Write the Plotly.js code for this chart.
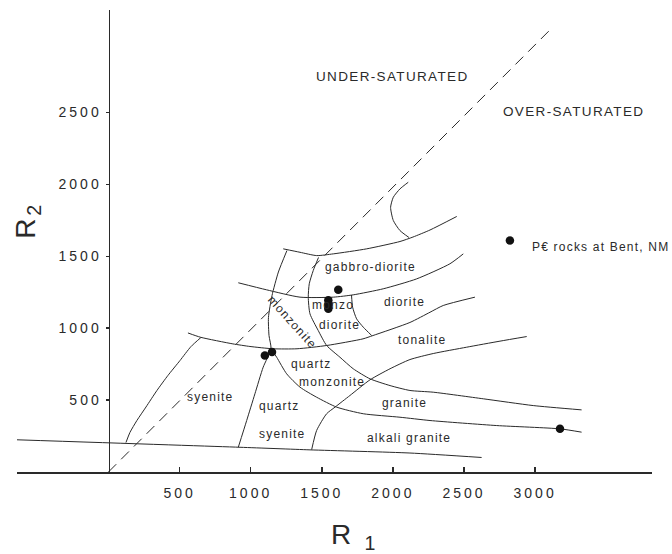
<!DOCTYPE html>
<html>
<head>
<meta charset="utf-8">
<script src="https://cdn.plot.ly/plotly-3.0.1.min.js"></script>
<style>
  html, body { margin: 0; padding: 0; background: #fff; }
  #chart { width: 672px; height: 554px; }
  .xtick text, .ytick text { letter-spacing: 3px; }
  .annotation-text { letter-spacing: 0.1em; }
</style>
</head>
<body>
<div id="chart"></div>
<script>
// ---- data (R1 = x, R2 = y) ----
const xTicks = [500, 1000, 1500, 2000, 2500, 3000];
const yTicks = [500, 1000, 1500, 2000, 2500];

// saturation boundary (dashed)
const satX = [0, 3100];
const satY = [0, 3070];

// lower boundary line
const baseX = [-643, 925, 1417, 2120, 2624];
const baseY = [224, 172, 154, 132, 101];

// syenite left boundary
const syeLeftX = [123, 151, 200, 264, 341, 418, 503, 580, 650];
const syeLeftY = [205, 275, 358, 452, 567, 671, 775, 872, 935];

// ~1000 boundary (syenite top / monzonite base / tonalite top)
const line1000X = [559, 648, 875, 995, 1157, 1326, 1536, 1790, 1860, 2120, 2261, 2354, 2577];
const line1000Y = [967, 937, 891, 873, 857, 857, 880, 926, 949, 1040, 1111, 1158, 1216];

// ~1250 boundary (monzonite top / gabbro-diorite base)
const line1250X = [913, 1112, 1347, 1581, 1721, 1932, 2167, 2401, 2495];
const line1250Y = [1316, 1267, 1216, 1216, 1232, 1274, 1343, 1448, 1517];

// gabbro-diorite top
const gabTopX = [1229, 1347, 1464, 1581, 1816, 2050, 2141, 2261, 2449];
const gabTopY = [1552, 1528, 1505, 1517, 1552, 1603, 1634, 1683, 1777];

// hook above gabbro-diorite
const hookX = [2113, 2050, 2003, 1984, 2003, 2050, 2108];
const hookY = [1631, 1679, 1749, 1841, 1911, 1969, 2015];

// monzonite left / syenite - quartz syenite boundary
const monzLeftX = [1255, 1195, 1150, 1125, 1129, 1143, 1088, 1030, 972, 913];
const monzLeftY = [1540, 1391, 1227, 1074, 949, 857, 729, 544, 358, 172];

// monzodiorite left / quartz monzonite - tonalite / granite top
const qmTopX = [1477, 1440, 1412, 1405, 1417, 1475, 1534, 1628, 1721, 1839, 1980, 2120, 2284, 2636, 2987, 3327];
const qmTopY = [1492, 1401, 1309, 1216, 1100, 984, 880, 798, 718, 648, 601, 567, 555, 509, 462, 432];

// monzodiorite / diorite boundary
const mdX = [1709, 1717, 1745, 1792, 1851];
const mdY = [1231, 1146, 1065, 1007, 949];

// quartz monzonite base / granite - alkali granite boundary
const graniteX = [1143, 1183, 1253, 1347, 1464, 1605, 1792, 2050, 2261, 2730, 3175, 3327];
const graniteY = [857, 798, 683, 590, 520, 451, 405, 381, 358, 323, 300, 277];

// quartz syenite - alkali granite / granite - tonalite boundary
const tonBaseX = [1429, 1464, 1534, 1593, 1698, 1839, 1980, 2120, 2284, 2519, 2753, 2941];
const tonBaseY = [156, 289, 405, 451, 532, 641, 718, 782, 824, 868, 910, 942];

// samples
const sampleX = [1616, 1546, 1546, 1546, 1100, 1150, 3175];
const sampleY = [1267, 1195, 1165, 1135, 810, 835, 300];
const keyX = [2823];
const keyY = [1610];

// labels
const fieldText = ['gabbro-diorite', 'monzo', 'diorite', 'diorite', 'tonalite', 'monzonite',
  'quartz', 'monzonite', 'granite', 'alkali granite', 'syenite', 'quartz', 'syenite'];
const fieldX = [1846, 1579, 1628, 2085, 2204, 1290, 1429, 1570, 2085, 2115, 714, 1206, 1218];
const fieldY = [1429, 1158, 1024, 1181, 919, 1040, 752, 629, 478, 238, 520, 462, 266];
const fieldAngle = [0, 0, 0, 0, 0, 48, 0, 0, 0, 0, 0, 0, 0];

const zoneText = ['UNDER-SATURATED', 'OVER-SATURATED'];
const zoneX = [1994, 3273];
const zoneY = [2750, 2507];

const keyText = 'P€ rocks at Bent, NM';
const keyTextX = 2964;
const keyTextY = 1568;

// ---- drawing ----
const ink = '#2a2a2a';
const FONT = 'Liberation Sans, Arial, Helvetica, sans-serif';

function curve(x, y) {
  return { x: x, y: y, type: 'scatter', mode: 'lines',
    line: { color: ink, width: 1, shape: 'spline', smoothing: 0.6 },
    hoverinfo: 'skip', cliponaxis: false };
}

const traces = [
  { x: satX, y: satY, type: 'scatter', mode: 'lines',
    line: { color: ink, width: 1, dash: '11px,7px' }, hoverinfo: 'skip' },
  curve(baseX, baseY),
  curve(syeLeftX, syeLeftY),
  curve(line1000X, line1000Y),
  curve(line1250X, line1250Y),
  curve(gabTopX, gabTopY),
  curve(hookX, hookY),
  curve(monzLeftX, monzLeftY),
  curve(qmTopX, qmTopY),
  curve(mdX, mdY),
  curve(graniteX, graniteY),
  curve(tonBaseX, tonBaseY),
  { x: sampleX, y: sampleY, type: 'scatter', mode: 'markers',
    marker: { color: '#111', size: 8.5 }, hoverinfo: 'skip' },
  { x: keyX, y: keyY, type: 'scatter', mode: 'markers',
    marker: { color: '#111', size: 8.5 }, hoverinfo: 'skip' }
];

const annotations = [];
fieldText.forEach(function (t, i) {
  annotations.push({ x: fieldX[i], y: fieldY[i], xref: 'x', yref: 'y', text: t,
    showarrow: false, textangle: fieldAngle[i],
    font: { family: FONT, size: 12, color: ink } });
});
zoneText.forEach(function (t, i) {
  annotations.push({ x: zoneX[i], y: zoneY[i], xref: 'x', yref: 'y', text: t,
    showarrow: false, font: { family: FONT, size: 13.5, color: ink } });
});
annotations.push({ x: keyTextX, y: keyTextY, xref: 'x', yref: 'y', text: keyText,
  showarrow: false, xanchor: 'left', font: { family: FONT, size: 12, color: ink } });
// axis titles
annotations.push({ x: -0.014, y: 0.545, xref: 'paper', yref: 'paper', text: 'R<sub>2</sub>',
  showarrow: false, textangle: -90, font: { family: FONT, size: 28, color: ink } });
annotations.push({ x: 0.532, y: -0.182, xref: 'paper', yref: 'paper', text: 'R <sub>1</sub>',
  showarrow: false, font: { family: FONT, size: 28, color: ink } });

const layout = {
  width: 672, height: 554,
  margin: { l: 17, r: 20, t: 10, b: 82 },
  paper_bgcolor: '#fff', plot_bgcolor: '#fff',
  showlegend: false, hovermode: false,
  font: { family: FONT, color: ink },
  xaxis: {
    range: [-643, 3822], showgrid: false, zeroline: false,
    showline: true, linecolor: ink, linewidth: 1.5,
    tickmode: 'array', tickvals: xTicks, ticktext: xTicks.map(String),
    ticks: 'inside', ticklen: 5, tickcolor: ink, tickwidth: 1.5,
    ticklabelstandoff: 8,
    tickfont: { family: FONT, size: 14, color: ink }
  },
  yaxis: {
    range: [0, 3213], showgrid: false, zeroline: false,
    anchor: 'free', position: 0.1441,
    showline: true, linecolor: ink, linewidth: 1.5,
    tickmode: 'array', tickvals: yTicks, ticktext: yTicks.map(String),
    ticks: 'outside', ticklen: 3, tickcolor: ink, tickwidth: 1.5,
    ticklabelstandoff: 1,
    tickfont: { family: FONT, size: 14, color: ink }
  },
  annotations: annotations
};

Plotly.newPlot('chart', traces, layout, { staticPlot: true, displayModeBar: false });
</script>
</body>
</html>
